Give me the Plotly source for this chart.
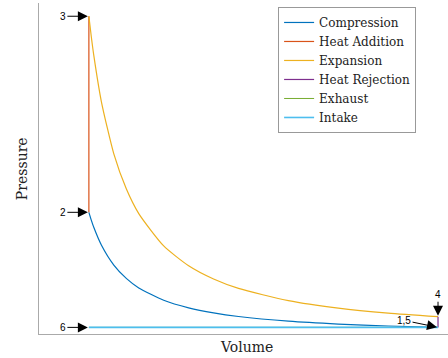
import plotly.graph_objects as go

# Otto cycle state data (volume in units of clearance volume, pressure relative)
vol_adiabat = [1, 1.05, 1.1, 1.25, 1.5, 1.75, 2, 2.5, 3, 3.5, 4, 5, 6, 7, 8]
p_compression = [18.38, 17.17, 16.08, 13.45, 10.42, 8.40, 6.96, 5.10, 3.95, 3.18, 2.64, 1.93, 1.50, 1.21, 1.00]
p_expansion = [48.0, 44.83, 42.0, 35.12, 27.21, 21.93, 18.19, 13.31, 10.31, 8.31, 6.89, 5.04, 3.91, 3.15, 2.61]

v_heat_add = [1, 1]
p_heat_add = [18.38, 48.0]
v_heat_rej = [8, 8]
p_heat_rej = [2.61, 1.0]
v_exhaust = [8, 1]
p_exhaust = [1.0, 1.0]
v_intake = [1, 8]
p_intake = [1.0, 1.0]

state_labels = ["3", "2", "6", "4", "1,5"]
state_v = [1, 1, 1, 8, 8]
state_p = [48.0, 18.38, 1.0, 2.61, 1.0]
label_dx = [-26, -26, -26, 0, -34]
label_dy = [0, 0, 0, -22, -7]

SERIF = "DejaVu Serif"

fig = go.Figure()
fig.add_trace(go.Scatter(x=vol_adiabat, y=p_compression, name="Compression", mode="lines",
                         line=dict(color="#0072BD", width=1.2, shape="spline", smoothing=0.6)))
fig.add_trace(go.Scatter(x=v_heat_add, y=p_heat_add, name="Heat Addition", mode="lines",
                         line=dict(color="#D95319", width=1.2)))
fig.add_trace(go.Scatter(x=vol_adiabat, y=p_expansion, name="Expansion", mode="lines",
                         line=dict(color="#EDB120", width=1.2, shape="spline", smoothing=0.6)))
fig.add_trace(go.Scatter(x=v_heat_rej, y=p_heat_rej, name="Heat Rejection", mode="lines",
                         line=dict(color="#7E2F8E", width=1.2)))
fig.add_trace(go.Scatter(x=v_exhaust, y=p_exhaust, name="Exhaust", mode="lines",
                         line=dict(color="#77AC30", width=1.0)))
fig.add_trace(go.Scatter(x=v_intake, y=p_intake, name="Intake", mode="lines",
                         line=dict(color="#4DBEEE", width=1.6)))

for lab, v, p, dx, dy in zip(state_labels, state_v, state_p, label_dx, label_dy):
    fig.add_annotation(x=v, y=p, text=lab, showarrow=True, ax=dx, ay=dy,
                       arrowhead=2, arrowsize=2.0, arrowwidth=1, arrowcolor="black",
                       standoff=1, font=dict(family="Liberation Sans", size=10, color="black"))

fig.update_layout(
    width=448, height=358,
    margin=dict(l=39, r=0, t=3, b=24),
    paper_bgcolor="white", plot_bgcolor="white",
    showlegend=True,
    legend=dict(x=0.922, y=0.988, xanchor="right", yanchor="top",
                bgcolor="white", bordercolor="#999999", borderwidth=1,
                font=dict(family=SERIF, size=12, color="#222"),
                tracegroupgap=0, itemwidth=30),
    xaxis=dict(range=[0, 8.2], showline=True, linecolor="#aaaaaa", linewidth=1,
               showgrid=False, zeroline=False, showticklabels=False, ticks=""),
    yaxis=dict(range=[0, 50], showline=True, linecolor="#aaaaaa", linewidth=1,
               showgrid=False, zeroline=False, showticklabels=False, ticks=""),
)
fig.add_annotation(text="Volume", xref="paper", yref="paper", x=0.508, y=-0.01, yanchor="top",
                   xanchor="center", showarrow=False,
                   font=dict(family=SERIF, size=14, color="#222"))
fig.add_annotation(text="Pressure", xref="paper", yref="paper", x=-0.018, y=0.5, textangle=-90,
                   xanchor="right", yanchor="middle", showarrow=False,
                   font=dict(family=SERIF, size=14, color="#222"))

fig.write_html("out.html")
